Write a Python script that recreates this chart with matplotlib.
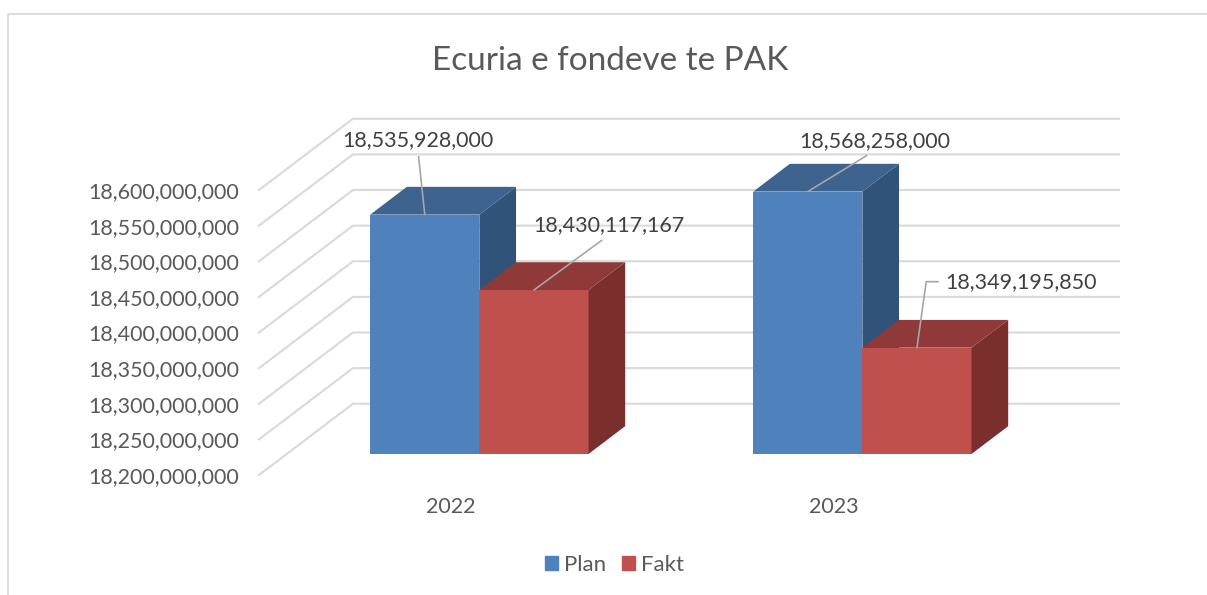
import matplotlib
matplotlib.use("Agg")
import matplotlib.pyplot as plt
from matplotlib.lines import Line2D
from matplotlib.patches import Polygon, Patch
from matplotlib.ticker import StrMethodFormatter

plt.rcParams['font.family'] = ['Lato', 'DejaVu Sans']

# Dados
anos = ['2022', '2023']
plan = [18535928000, 18568258000]
fakt = [18430117167, 18349195850]
y_ticks = [18200000000, 18250000000, 18300000000, 18350000000, 18400000000,
           18450000000, 18500000000, 18550000000, 18600000000]
titulo = 'Ecuria e fondeve te PAK'

W, H = 1207, 595
GRID = '#D9D9D9'
TXT = '#595959'
TXT_LABEL = '#404040'

# cores: frente, lado, topo
AZUL = ('#4F81BD', '#325379', '#3E638F')
VERM = ('#C0504D', '#7B2F2D', '#8F3938')

# profundidade da "caixa" 3D em unidades de dados
DEPTH_X = 0.2454
DEPTH_Y = 100000000
BAR_W = 0.285
D0, D1 = 0.295, 0.685  # frente e fundo das barras

fig = plt.figure(figsize=(W / 100, H / 100), dpi=100)
ax = fig.add_axes([259 / W, 1 - 475 / H, 766 / W, 285 / H])
y0 = y_ticks[0]


def barra3d(xc, val, cores, z):
    xa = xc + D0 * DEPTH_X
    ya = y0 + D0 * DEPTH_Y
    top = val + D0 * DEPTH_Y
    ddx = (D1 - D0) * DEPTH_X
    ddy = (D1 - D0) * DEPTH_Y
    xb = xa + BAR_W
    ax.bar(xa, val - y0, BAR_W, bottom=ya, align='edge', color=cores[0],
           zorder=z, clip_on=False)
    ax.add_patch(Polygon([(xb, ya), (xb + ddx, ya + ddy), (xb + ddx, top + ddy), (xb, top)],
                         color=cores[1], lw=0, zorder=z, clip_on=False))
    ax.add_patch(Polygon([(xa, top), (xa + ddx, top + ddy), (xb + ddx, top + ddy), (xb, top)],
                         color=cores[2], lw=0, zorder=z, clip_on=False))
    return xa + BAR_W / 2, top


# grade: parede do fundo e lateral
for v in y_ticks:
    ax.plot([-0.5, -0.5 + DEPTH_X, 1.5 + DEPTH_X], [v, v + DEPTH_Y, v + DEPTH_Y],
            color=GRID, lw=1.5, zorder=1, clip_on=False, solid_joinstyle='miter')

pontos = []
for i in range(len(anos)):
    pontos.append(barra3d(i - BAR_W + 0.003, plan[i], AZUL, 3 + i * 2))
    pontos.append(barra3d(i + 0.003, fakt[i], VERM, 4 + i * 2))

ax.set_xlim(-0.5, 1.5)
ax.set_ylim(y_ticks[0], y_ticks[-1])
ax.set_xticks(range(len(anos)), anos)
ax.set_yticks(y_ticks)
ax.yaxis.set_major_formatter(StrMethodFormatter('{x:,.0f}'))
ax.tick_params(axis='y', length=0, pad=14.4, labelsize=15.5, labelcolor=TXT)
ax.tick_params(axis='x', length=0, pad=16, labelsize=15.5, labelcolor=TXT)
ax.patch.set_visible(False)
for s in ax.spines.values():
    s.set_visible(False)

# rotulos com linhas de chamada
valores = [plan[0], fakt[0], plan[1], fakt[1]]
desloc = [(-7, 75), (75, 65), (67, 51), (104, 66)]
estilos = ['arc3', 'arc3', 'arc3', 'angle,angleA=0,angleB=82,rad=0']
relpos = [(0.5, 0), (0.5, 0), (0.5, 0), (0, 0.5)]
for p, val, d, est, rp in zip(pontos, valores, desloc, estilos, relpos):
    ax.annotate(f'{val:,.0f}', xy=p, xytext=d, textcoords='offset pixels',
                ha='center', va='center', fontsize=15.5, color=TXT_LABEL, zorder=20,
                annotation_clip=False,
                arrowprops=dict(arrowstyle='-', color='#A6A6A6', lw=1.2, shrinkA=3, shrinkB=0,
                                connectionstyle=est, relpos=rp))

fig.text(610 / W, 1 - 61 / H, titulo, ha='center', va='center', fontsize=24, color=TXT)

# moldura
fig.add_artist(Line2D([8 / W, 8 / W, 1], [0, 1 - 14 / H, 1 - 14 / H], color=GRID, lw=1.3))

handles = [Patch(color=AZUL[0], label='Plan'), Patch(color=VERM[0], label='Fakt')]
fig.legend(handles=handles, loc='center', bbox_to_anchor=(614.5 / W, 1 - 565 / H), ncols=2,
           frameon=False, fontsize=16, labelcolor=TXT, handlelength=0.585, handleheight=0.585,
           handletextpad=0.27, columnspacing=0.72)

fig.savefig('out.png', dpi=100)
